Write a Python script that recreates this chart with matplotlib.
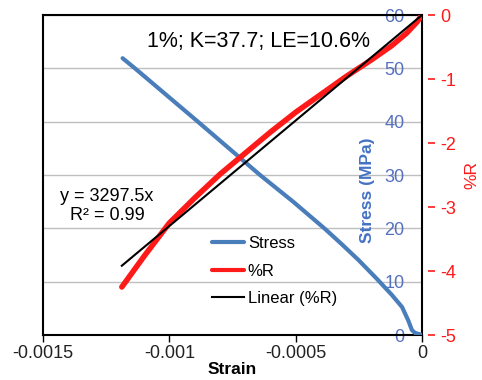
import numpy as np
import matplotlib
matplotlib.use('Agg')
import matplotlib.pyplot as plt

plt.rcParams['font.family'] = ['Liberation Sans', 'DejaVu Sans']

# Stress vs strain
stress_strain = [-0.001185, -0.001136, -0.000887, -0.000641, -0.000510, -0.000384,
                 -0.000317, -0.000250, -0.000178, -0.000119, -0.000079, -0.000055,
                 -0.000040, -0.000028, 0.0]
stress = [51.9, 50.0, 40.0, 30.0, 25.0, 19.9, 17.0, 14.0, 10.5, 7.5, 5.25, 2.8,
          0.94, 0.4, 0.0]

# %R vs strain
r_strain = [-0.001188, -0.0011, -0.0010, -0.0009, -0.0008, -0.0007, -0.0006,
            -0.0005, -0.0004, -0.0003, -0.0002, -0.00012, -0.00006, -0.00002, 0.0]
r_pct = [-4.25, -3.77, -3.25, -2.86, -2.49, -2.16, -1.83, -1.52, -1.24, -0.96,
         -0.70, -0.48, -0.28, -0.11, 0.0]

# linear trendline through origin
slope = 3297.5
r2 = 0.99
annot = '1%; K=37.7; LE=10.6%'

stress_ticks = [0, 10, 20, 30, 40, 50, 60]
r_ticks = [0, -1, -2, -3, -4, -5]
x_ticks = [-0.0015, -0.001, -0.0005, 0]
x_ticklabels = ['-0.0015', '-0.001', '-0.0005', '0']

blue = '#4A7EBB'
blue_txt = '#5670C0'
red = '#FF1A1A'

fig = plt.figure(figsize=(4.82, 3.80), dpi=100)
ax = fig.add_axes([0.0892, 0.1184, 0.7863, 0.8421])
ax2 = ax.twinx()

# stress on primary axis, labels inside next to right spine
l1, = ax.plot(stress_strain, stress, color=blue, lw=3, solid_capstyle='round',
              solid_joinstyle='round', zorder=3)
ax.set_xlim(-0.0015, 0)
ax.set_ylim(0, 60)
ax.set_yticks(stress_ticks)
ax.set_yticklabels([str(t) for t in stress_ticks])
ax.grid(axis='y', color='#BFBFBF', lw=1)
ax.set_axisbelow(True)
ax.tick_params(axis='y', left=False, right=False, labelleft=False, labelright=True,
               length=0, pad=-12.5, labelsize=13, labelcolor=blue_txt)
for lbl in ax.get_yticklabels():
    lbl.set_horizontalalignment('right')
ax.set_xticks(x_ticks)
ax.set_xticklabels(x_ticklabels)
ax.tick_params(axis='x', direction='out', length=5, width=1, pad=2, labelsize=13,
               labelcolor='#222222')
ax.set_xlabel('Strain', fontsize=12.5, fontweight='bold', labelpad=0)
ax.yaxis.set_label_position('right')
ax.set_ylabel('Stress (MPa)', fontsize=12.5, fontweight='bold', color='#4472C4')
ax.yaxis.set_label_coords(0.836, 0.453)
for s in ax.spines.values():
    s.set_color('black')
    s.set_linewidth(1.5)

# %R on secondary axis
r_fit_x = np.array([r_strain[0], r_strain[-1]])
l2, = ax2.plot(r_strain, r_pct, color=red, lw=4, solid_capstyle='round',
               solid_joinstyle='round', zorder=3)
l3, = ax2.plot(r_fit_x, slope * r_fit_x, color='black', lw=1.5, zorder=4)
ax2.set_ylim(-5, 0)
ax2.set_yticks(r_ticks)
ax2.set_yticklabels([str(t) for t in r_ticks])
ax2.spines['right'].set_position(('outward', 4))
ax2.spines['right'].set_visible(False)
for k in ['left', 'top', 'bottom']:
    ax2.spines[k].set_visible(False)
ax2.tick_params(axis='y', colors=red, length=5, width=1.2, pad=4, labelsize=13)
ax2.set_ylabel('%R', fontsize=12.5, color=red, labelpad=6)
ax2.set_zorder(ax.get_zorder() + 1)

ax2.text(0.274, 0.916, annot, transform=ax.transAxes, fontsize=15.5,
         ha='left', va='center')
ax2.text(0.169, 0.403, 'y = %.1fx\nR² = %.2f' % (slope, r2), transform=ax.transAxes,
         fontsize=13, ha='center', va='center', multialignment='center',
         linespacing=1.1)

leg = ax2.legend([l1, l2, l3], ['Stress', '%R', 'Linear (%R)'], loc='upper left',
                 bbox_to_anchor=(0.446, 0.309), frameon=False, fontsize=12,
                 handlelength=1.9, handletextpad=0.25, labelspacing=0.75,
                 borderpad=0, borderaxespad=0)
for h in leg.get_lines()[:2]:
    h.set_linewidth(3)

fig.savefig('out.png', dpi=100)
